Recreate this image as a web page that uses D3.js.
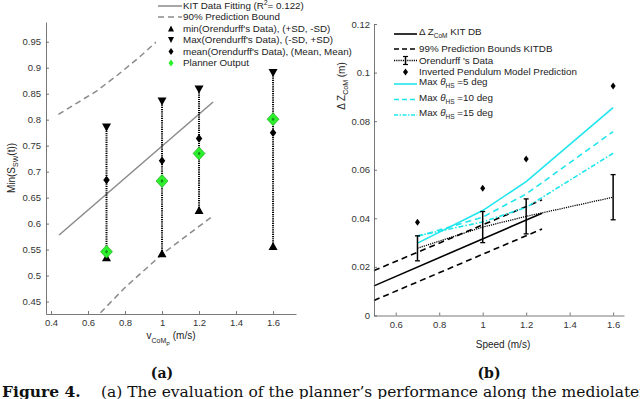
<!DOCTYPE html>
<html>
<head>
<meta charset="utf-8">
<script src="https://cdn.jsdelivr.net/npm/d3@7"></script>
<style>
  body { margin: 0; background: white; }
  svg { display: block; }
  .tick text { font-family: "Liberation Sans", Arial, sans-serif; font-size: 9.5px; fill: #333; }
  .lbl { font-family: "Liberation Sans", Arial, sans-serif; font-size: 10px; fill: #222; }
  .leg { font-family: "Liberation Sans", Arial, sans-serif; font-size: 9.8px; fill: #222; }
  .cap { font-family: "DejaVu Serif", "Liberation Serif", serif; fill: #111; }
</style>
</head>
<body>
<div id="chart"></div>
<script>
// ---- panel (a) data ----
let speedsA = [0.7, 1.0, 1.2, 1.6];
let minA = [0.535, 0.543, 0.626, 0.557];
let maxA = [0.785, 0.835, 0.858, 0.89];
let meanA = [0.684, 0.721, 0.764, 0.775];
let plannerA = [0.546, 0.682, 0.735, 0.801];
let fitX = [0.444, 1.276];
let fitY = [0.578, 0.834];
let upperX = [0.44, 0.54, 0.65, 0.76, 0.87, 0.97, 1.05];
let upperY = [0.81, 0.832, 0.856, 0.886, 0.918, 0.95, 0.975];
let lowerX = [0.44, 0.661, 0.8, 1.0, 1.276];
let lowerY = [0.346, 0.426, 0.477, 0.541, 0.615];
let xTicksA = [0.4, 0.6, 0.8, 1, 1.2, 1.4, 1.6];
let yTicksA = [0.45, 0.5, 0.55, 0.6, 0.65, 0.7, 0.75, 0.8, 0.85, 0.9, 0.95];

// ---- panel (b) data ----
let speedsB = [0.7, 1.0, 1.2, 1.6];
let kitX = [0.5, 1.273];
let kitY = [0.0122, 0.0421];
let kitUpper = [0.0185, 0.0476];
let kitLower = [0.0062, 0.0356];
let orenMean = [0.0277, 0.0364, 0.0408, 0.0487];
let orenLow = [0.0225, 0.030, 0.0336, 0.0394];
let orenHigh = [0.0328, 0.0428, 0.048, 0.058];
let pendulum = [0.0384, 0.0524, 0.0644, 0.0945];
let theta5 = [0.0298, 0.0432, 0.0551, 0.0856];
let theta10 = [0.0325, 0.0405, 0.0500, 0.0757];
let theta15 = [0.0328, 0.0385, 0.0445, 0.0668];
let xTicksB = [0.6, 0.8, 1, 1.2, 1.4, 1.6];
let yTicksB = [0, 0.02, 0.04, 0.06, 0.08, 0.1, 0.12];

const cyan = "#1fe6ec";
const gray = "#8a8a8a";

let svg = d3.select("#chart").append("svg")
    .attr("width", 640)
    .attr("height", 399);

function diamond(w, h) {
    return `M0,${-h / 2}L${w / 2},0L0,${h / 2}L${-w / 2},0Z`;
}
function triUp(w, h) {
    return `M0,${-h / 2}L${w / 2},${h / 2}L${-w / 2},${h / 2}Z`;
}
function triDown(w, h) {
    return `M0,${h / 2}L${w / 2},${-h / 2}L${-w / 2},${-h / 2}Z`;
}

function styleAxis(g) {
    g.select(".domain").attr("stroke", "#555").attr("stroke-width", 0.8);
    g.selectAll(".tick line").attr("stroke", "#555").attr("stroke-width", 0.8);
}

// =================== panel (a) ===================
let xA = d3.scaleLinear([0.373, 1.724], [46, 296]);
let yA = d3.scaleLinear([0.426, 0.988], [314, 22]);

svg.append("defs").append("clipPath").attr("id", "clipA")
    .append("rect").attr("x", 46).attr("y", 22).attr("width", 250).attr("height", 292);

let gA = svg.append("g").attr("clip-path", "url(#clipA)");
let lineA = d3.line().x(d => xA(d[0])).y(d => yA(d[1]));

gA.append("path")
    .attr("d", lineA(d3.zip(fitX, fitY)))
    .attr("fill", "none").attr("stroke", gray).attr("stroke-width", 1.5);
gA.append("path")
    .attr("d", lineA(d3.zip(upperX, upperY)))
    .attr("fill", "none").attr("stroke", gray).attr("stroke-width", 1.5)
    .attr("stroke-dasharray", "6,4");
gA.append("path")
    .attr("d", lineA(d3.zip(lowerX, lowerY)))
    .attr("fill", "none").attr("stroke", gray).attr("stroke-width", 1.5)
    .attr("stroke-dasharray", "6,4");

// dotted range lines
speedsA.forEach((s, i) => {
    gA.append("line")
        .attr("x1", xA(s)).attr("x2", xA(s))
        .attr("y1", yA(minA[i])).attr("y2", yA(maxA[i]))
        .attr("stroke", "black").attr("stroke-width", 2)
        .attr("stroke-dasharray", "1.2,1");
});

gA.selectAll(".minA").data(speedsA).enter().append("path")
    .attr("d", triUp(9, 8))
    .attr("transform", (d, i) => `translate(${xA(d)},${yA(minA[i])})`)
    .attr("fill", "black");
gA.selectAll(".maxA").data(speedsA).enter().append("path")
    .attr("d", triDown(9, 8))
    .attr("transform", (d, i) => `translate(${xA(d)},${yA(maxA[i])})`)
    .attr("fill", "black");
gA.selectAll(".meanA").data(speedsA).enter().append("path")
    .attr("d", diamond(6.5, 8.5))
    .attr("transform", (d, i) => `translate(${xA(d)},${yA(meanA[i])})`)
    .attr("fill", "black");
gA.selectAll(".planA").data(speedsA).enter().append("path")
    .attr("d", diamond(12, 13))
    .attr("transform", (d, i) => `translate(${xA(d)},${yA(plannerA[i])})`)
    .attr("fill", "#2bf02b").attr("stroke", "#1a9e1a").attr("stroke-width", 0.6);
gA.selectAll(".planDot").data(speedsA).enter().append("path")
    .attr("d", diamond(3, 4))
    .attr("transform", (d, i) => `translate(${xA(d)},${yA(plannerA[i])})`)
    .attr("fill", "#1a8a1a");

let axAx = svg.append("g")
    .attr("transform", "translate(0,314)")
    .call(d3.axisBottom(xA).tickValues(xTicksA).tickFormat(d => String(d))
        .tickSizeInner(-3).tickSizeOuter(0).tickPadding(5));
styleAxis(axAx);
let axAy = svg.append("g")
    .attr("transform", "translate(46,0)")
    .call(d3.axisLeft(yA).tickValues(yTicksA).tickFormat(d => String(d))
        .tickSizeInner(-3).tickSizeOuter(0).tickPadding(5));
styleAxis(axAy);

// labels (a)
let ylA = svg.append("text").attr("class", "lbl")
    .attr("transform", "translate(15,168) rotate(-90)")
    .attr("text-anchor", "middle");
ylA.append("tspan").text("Min(S");
ylA.append("tspan").attr("font-size", "7px").attr("dy", 3).text("SW");
ylA.append("tspan").attr("dy", -3).text("(t))");

let xlA = svg.append("text").attr("class", "lbl")
    .attr("x", 171).attr("y", 339).attr("text-anchor", "middle");
xlA.append("tspan").text("v");
xlA.append("tspan").attr("font-size", "7px").attr("dy", 4).text("CoM");
xlA.append("tspan").attr("font-size", "5.5px").attr("dy", 3).text("P");
xlA.append("tspan").attr("dy", -7).text(" (m/s)");

// legend (a)
let legA = svg.append("g");
legA.append("rect").attr("x", 156).attr("y", 0).attr("width", 180).attr("height", 69).attr("fill", "white");
let legAText = [
    "KIT Data Fitting (R", "90% Prediction Bound", "min(Orendurff's Data), (+SD, -SD)",
    "Max(Orendurff's Data), (-SD, +SD)", "mean(Orendurff's Data), (Mean, Mean)", "Planner Output"
];
let legAy = [6, 17, 28.5, 40, 51.5, 63];
legA.append("line").attr("x1", 158).attr("x2", 182).attr("y1", legAy[0]).attr("y2", legAy[0])
    .attr("stroke", gray).attr("stroke-width", 1.5);
legA.append("line").attr("x1", 158).attr("x2", 182).attr("y1", legAy[1]).attr("y2", legAy[1])
    .attr("stroke", gray).attr("stroke-width", 1.5).attr("stroke-dasharray", "6,4");
legA.append("path").attr("d", triUp(6, 6)).attr("transform", `translate(171,${legAy[2]})`).attr("fill", "black");
legA.append("path").attr("d", triDown(6, 6)).attr("transform", `translate(171,${legAy[3]})`).attr("fill", "black");
legA.append("path").attr("d", diamond(5, 7)).attr("transform", `translate(171,${legAy[4]})`).attr("fill", "black");
legA.append("path").attr("d", diamond(5, 7)).attr("transform", `translate(171,${legAy[5]})`).attr("fill", "#2bf02b");
legAText.forEach((t, i) => {
    let tx = legA.append("text").attr("class", "leg")
        .attr("x", 183).attr("y", legAy[i] + 3.4).text(t);
    if (i === 0) {
        tx.append("tspan").attr("font-size", "6.5px").attr("dy", -4).text("2");
        tx.append("tspan").attr("dy", 4).text("= 0.122)");
    }
});

// =================== panel (b) ===================
let xB = d3.scaleLinear([0.5, 1.65], [374, 624]);
let yB = d3.scaleLinear([0, 0.12], [315.5, 24]);
let lineB = d3.line().x(d => xB(d[0])).y(d => yB(d[1]));
let gB = svg.append("g");

gB.append("path").attr("d", lineB(d3.zip(kitX, kitY)))
    .attr("fill", "none").attr("stroke", "black").attr("stroke-width", 1.6);
gB.append("path").attr("d", lineB(d3.zip(kitX, kitUpper)))
    .attr("fill", "none").attr("stroke", "black").attr("stroke-width", 1.6).attr("stroke-dasharray", "6,4");
gB.append("path").attr("d", lineB(d3.zip(kitX, kitLower)))
    .attr("fill", "none").attr("stroke", "black").attr("stroke-width", 1.6).attr("stroke-dasharray", "6,4");

gB.append("path").attr("d", lineB(d3.zip(speedsB, theta5)))
    .attr("fill", "none").attr("stroke", cyan).attr("stroke-width", 1.6);
gB.append("path").attr("d", lineB(d3.zip(speedsB, theta10)))
    .attr("fill", "none").attr("stroke", cyan).attr("stroke-width", 1.6).attr("stroke-dasharray", "6,4");
gB.append("path").attr("d", lineB(d3.zip(speedsB, theta15)))
    .attr("fill", "none").attr("stroke", cyan).attr("stroke-width", 1.6).attr("stroke-dasharray", "5,2,1.5,2");

gB.append("path").attr("d", lineB(d3.zip(speedsB, orenMean)))
    .attr("fill", "none").attr("stroke", "black").attr("stroke-width", 1.3).attr("stroke-dasharray", "1.2,1");

speedsB.forEach((s, i) => {
    let x = xB(s);
    gB.append("line").attr("x1", x).attr("x2", x)
        .attr("y1", yB(orenLow[i])).attr("y2", yB(orenHigh[i]))
        .attr("stroke", "black").attr("stroke-width", 1.5);
    [orenLow[i], orenHigh[i]].forEach(v => {
        gB.append("line").attr("x1", x - 2.5).attr("x2", x + 2.5)
            .attr("y1", yB(v)).attr("y2", yB(v))
            .attr("stroke", "black").attr("stroke-width", 1.3);
    });
});

gB.selectAll(".pend").data(speedsB).enter().append("path")
    .attr("d", diamond(5, 7))
    .attr("transform", (d, i) => `translate(${xB(d)},${yB(pendulum[i])})`)
    .attr("fill", "black");

let axBx = svg.append("g")
    .attr("transform", "translate(0,315.5)")
    .call(d3.axisBottom(xB).tickValues(xTicksB).tickFormat(d => String(d))
        .tickSizeInner(-3).tickSizeOuter(0).tickPadding(6));
styleAxis(axBx);
let axBy = svg.append("g")
    .attr("transform", "translate(374,0)")
    .call(d3.axisLeft(yB).tickValues(yTicksB).tickFormat(d => String(d))
        .tickSizeInner(-3).tickSizeOuter(0).tickPadding(4));
styleAxis(axBy);

let ylB = svg.append("text").attr("class", "lbl")
    .attr("transform", "translate(345,86) rotate(-90)")
    .attr("text-anchor", "middle");
ylB.append("tspan").text("Δ Z");
ylB.append("tspan").attr("font-size", "7px").attr("dy", 3).text("CoM");
ylB.append("tspan").attr("dy", -3).text(" (m)");

svg.append("text").attr("class", "lbl")
    .attr("x", 503).attr("y", 348).attr("text-anchor", "middle")
    .text("Speed (m/s)");

// legend (b)
let legB = svg.append("g");
let legBy = [34, 49, 60.5, 72, 84, 99.5, 115];
legB.append("line").attr("x1", 394).attr("x2", 417).attr("y1", legBy[0]).attr("y2", legBy[0])
    .attr("stroke", "black").attr("stroke-width", 1.6);
legB.append("line").attr("x1", 394).attr("x2", 417).attr("y1", legBy[1]).attr("y2", legBy[1])
    .attr("stroke", "black").attr("stroke-width", 1.6).attr("stroke-dasharray", "5,3");
legB.append("line").attr("x1", 394).attr("x2", 417).attr("y1", legBy[2]).attr("y2", legBy[2])
    .attr("stroke", "black").attr("stroke-width", 1.3).attr("stroke-dasharray", "1.2,1");
legB.append("line").attr("x1", 405.5).attr("x2", 405.5).attr("y1", legBy[2] - 4).attr("y2", legBy[2] + 4)
    .attr("stroke", "black").attr("stroke-width", 1.5);
[legBy[2] - 4, legBy[2] + 4].forEach(v => {
    legB.append("line").attr("x1", 403).attr("x2", 408).attr("y1", v).attr("y2", v)
        .attr("stroke", "black").attr("stroke-width", 1.2);
});
legB.append("path").attr("d", diamond(5, 7)).attr("transform", `translate(405.5,${legBy[3]})`).attr("fill", "black");
legB.append("line").attr("x1", 394).attr("x2", 417).attr("y1", legBy[4]).attr("y2", legBy[4])
    .attr("stroke", cyan).attr("stroke-width", 1.6);
legB.append("line").attr("x1", 394).attr("x2", 417).attr("y1", legBy[5]).attr("y2", legBy[5])
    .attr("stroke", cyan).attr("stroke-width", 1.6).attr("stroke-dasharray", "5,3");
legB.append("line").attr("x1", 394).attr("x2", 417).attr("y1", legBy[6]).attr("y2", legBy[6])
    .attr("stroke", cyan).attr("stroke-width", 1.6).attr("stroke-dasharray", "4,1.5,1.5,1.5");

let t0 = legB.append("text").attr("class", "leg").attr("x", 419).attr("y", legBy[0] + 1);
t0.append("tspan").text("Δ Z");
t0.append("tspan").attr("font-size", "6.5px").attr("dy", 3).text("CoM");
t0.append("tspan").attr("dy", -3).text(" KIT DB");
legB.append("text").attr("class", "leg").attr("x", 419).attr("y", legBy[1] + 3.4).text("99% Prediction Bounds KITDB");
legB.append("text").attr("class", "leg").attr("x", 419).attr("y", legBy[2] + 3.4).text("Orendurff 's Data");
legB.append("text").attr("class", "leg").attr("x", 419).attr("y", legBy[3] + 3.4).text("Inverted Pendulum Model Prediction");
["=5 deg", "=10 deg", "=15 deg"].forEach((t, i) => {
    let tt = legB.append("text").attr("class", "leg").attr("x", 419).attr("y", legBy[4 + i] + 1);
    tt.append("tspan").text("Max ");
    tt.append("tspan").attr("font-style", "italic").text("θ");
    tt.append("tspan").attr("font-size", "6.5px").attr("dy", 3).text("HS");
    tt.append("tspan").attr("dy", -3).text(" " + t);
});

// captions
svg.append("text").attr("class", "cap").attr("x", 162).attr("y", 378)
    .attr("text-anchor", "middle").attr("font-weight", "bold").attr("font-size", "14px").text("(a)");
svg.append("text").attr("class", "cap").attr("x", 489).attr("y", 378)
    .attr("text-anchor", "middle").attr("font-weight", "bold").attr("font-size", "14px").text("(b)");
let cap = svg.append("text").attr("class", "cap").attr("x", 2).attr("y", 397).attr("font-size", "15.5px");
cap.append("tspan").attr("font-weight", "bold").text("Figure 4.");
cap.append("tspan").attr("x", 101).text("(a) The evaluation of the planner’s performance along the mediolateral");
</script>
</body>
</html>
